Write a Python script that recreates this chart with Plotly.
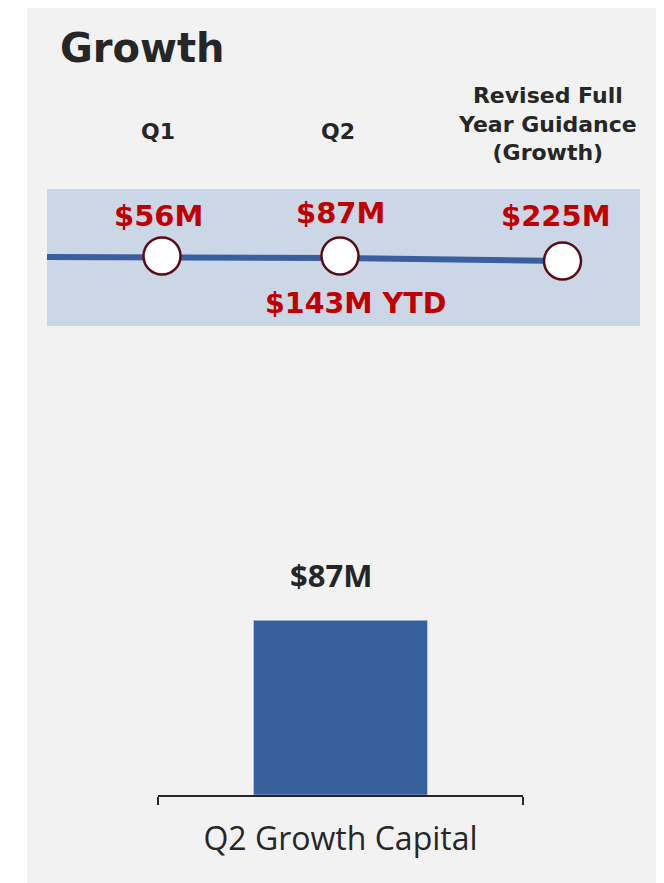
import plotly.graph_objects as go

# ---- data ----
periods = ["Q1", "Q2", "Revised Full<br>Year Guidance<br>(Growth)"]
period_values = [56, 87, 225]
ytd_value = 143
bar_categories = ["Q2 Growth Capital"]
bar_values = [87]

# ---- layout constants ----
OFF = 8                      # page body margin
W, H = 664 - OFF, 883 - OFF
col_pos = [0, 1, 2.25]       # timeline column positions
PX_PER_UNIT = 178.0
X0_PX = 162.0 - OFF

def px(p):
    return (p - OFF) / W

def py(p):
    return 1 - (p - OFF) / H

HEAD_FONT = "DejaVu Sans"

fig = go.Figure()

# timeline line
fig.add_trace(go.Scatter(
    x=[(47 - OFF - X0_PX) / PX_PER_UNIT] + col_pos,
    y=[0.504, 0.504, 0.496, 0.474],
    mode="lines", line=dict(color="#3a5f9e", width=6),
    hoverinfo="skip", showlegend=False, xaxis="x", yaxis="y"))
# timeline markers
fig.add_trace(go.Scatter(
    x=col_pos, y=[0.511, 0.511, 0.474],
    mode="markers",
    marker=dict(size=37, color="white", line=dict(color="#5c0a14", width=2.5)),
    hoverinfo="skip", showlegend=False, xaxis="x", yaxis="y"))

# bar
fig.add_trace(go.Bar(
    x=bar_categories, y=bar_values, marker_color="#375f9c", width=0.477,
    showlegend=False, xaxis="x2", yaxis="y2", hoverinfo="skip"))

shapes = [
    dict(type="rect", xref="paper", yref="paper", x0=px(27), x1=1.0, y0=0, y1=1.0,
         fillcolor="#f2f2f2", line=dict(width=0), layer="below"),
    dict(type="rect", xref="paper", yref="paper", x0=px(47), x1=px(640), y0=py(326), y1=py(189),
         fillcolor="#cbd6e6", line=dict(width=0), layer="below"),
]

annotations = [
    dict(text="<b>Growth</b>", xref="paper", yref="paper", x=px(58), y=py(48),
         xanchor="left", yanchor="middle", showarrow=False,
         font=dict(family=HEAD_FONT, size=40, color="#262626")),
]

hdr_shift = [-4, -2, -15]
hdr_y = [131, 131, 124]
for i, p in enumerate(periods):
    annotations.append(dict(
        text="<b>" + p + "</b>", xref="x", yref="paper", x=col_pos[i], y=py(hdr_y[i]),
        xanchor="center", yanchor="middle", showarrow=False, xshift=hdr_shift[i],
        font=dict(family=HEAD_FONT, size=22, color="#262626")))

val_shift = [-4, 0, -7]
val_y = [216, 213, 216]
for i, v in enumerate(period_values):
    annotations.append(dict(
        text=f"<b>${v}M</b>", xref="x", yref="paper", x=col_pos[i], y=py(val_y[i]),
        xanchor="center", yanchor="middle", showarrow=False, xshift=val_shift[i],
        font=dict(family=HEAD_FONT, size=29, color="#c00000")))

annotations.append(dict(
    text=f"<b>${ytd_value}M YTD</b>", xref="x", yref="paper", x=col_pos[1], y=py(303),
    xanchor="center", yanchor="middle", showarrow=False, xshift=15,
    font=dict(family=HEAD_FONT, size=28.5, color="#c00000")))

annotations.append(dict(
    text=f"<b>${bar_values[0]}M</b>", xref="x2", yref="y2", x=bar_categories[0], y=bar_values[0],
    xanchor="center", yanchor="middle", showarrow=False, yshift=45, xshift=-10,
    font=dict(family="Open Sans", size=31, color="#262626")))

fig.update_layout(
    width=W, height=H, margin=dict(l=0, r=0, t=0, b=0),
    paper_bgcolor="white", plot_bgcolor="rgba(0,0,0,0)",
    shapes=shapes, annotations=annotations,
    xaxis=dict(domain=[0, 1], range=[-X0_PX / PX_PER_UNIT, (W - X0_PX) / PX_PER_UNIT],
               visible=False, fixedrange=True),
    yaxis=dict(domain=[py(326), py(189)], range=[0, 1], visible=False, fixedrange=True),
    xaxis2=dict(domain=[px(158), px(523)], anchor="y2", showline=True, linecolor="#262626",
                linewidth=1.5, ticks="outside", tickson="boundaries", ticklen=8, tickwidth=1.5,
                tickcolor="#262626", showgrid=False, zeroline=False,
                tickfont=dict(family="Open Sans", size=32, color="#262626"),
                ticklabelstandoff=15, fixedrange=True),
    yaxis2=dict(domain=[py(795), py(554)], range=[0, 120], visible=False, fixedrange=True),
)

fig.write_html("out.html")
